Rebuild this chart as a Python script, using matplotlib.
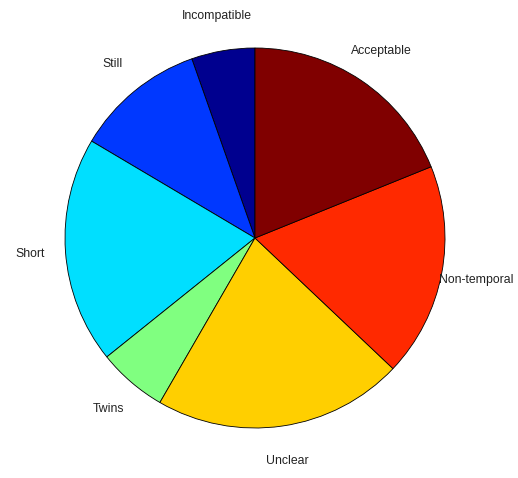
import matplotlib
matplotlib.use("Agg")
import matplotlib.pyplot as plt
import numpy as np

# slices in counter-clockwise order starting at 12 o'clock
labels = ["Incompatible", "Still", "Short", "Twins", "Unclear", "Non-temporal", "Acceptable"]
values = [5.4, 11.1, 19.3, 5.9, 21.3, 18.2, 18.9]
colors = [(0, 0, 0.5625), (0, 0.22, 1), (0, 0.875, 1), (0.5, 1, 0.5),
          (1, 0.81, 0), (1, 0.16, 0), (0.5, 0, 0)]

W, H = 518, 478
cx, cy, r = 255, 238, 190

fig = plt.figure(figsize=(W / 100, H / 100), dpi=100)
ax = fig.add_axes([(cx - r) / W, (H - cy - r) / H, 2 * r / W, 2 * r / H])

wedges, _ = ax.pie(values, colors=colors, startangle=90, counterclock=True,
                   wedgeprops=dict(edgecolor="black", linewidth=0.6))
for w in wedges:
    w.set_clip_on(False)
    mid = np.deg2rad((w.theta1 + w.theta2) / 2)
    ax.text(1.185 * np.cos(mid), 1.185 * np.sin(mid), labels[wedges.index(w)],
            ha="center", va="center", fontsize=8.8, family="Liberation Sans",
            color="#222222")

ax.set_xlim(-1, 1)
ax.set_ylim(-1, 1)
ax.axis("off")

fig.savefig("out.png", dpi=100)
